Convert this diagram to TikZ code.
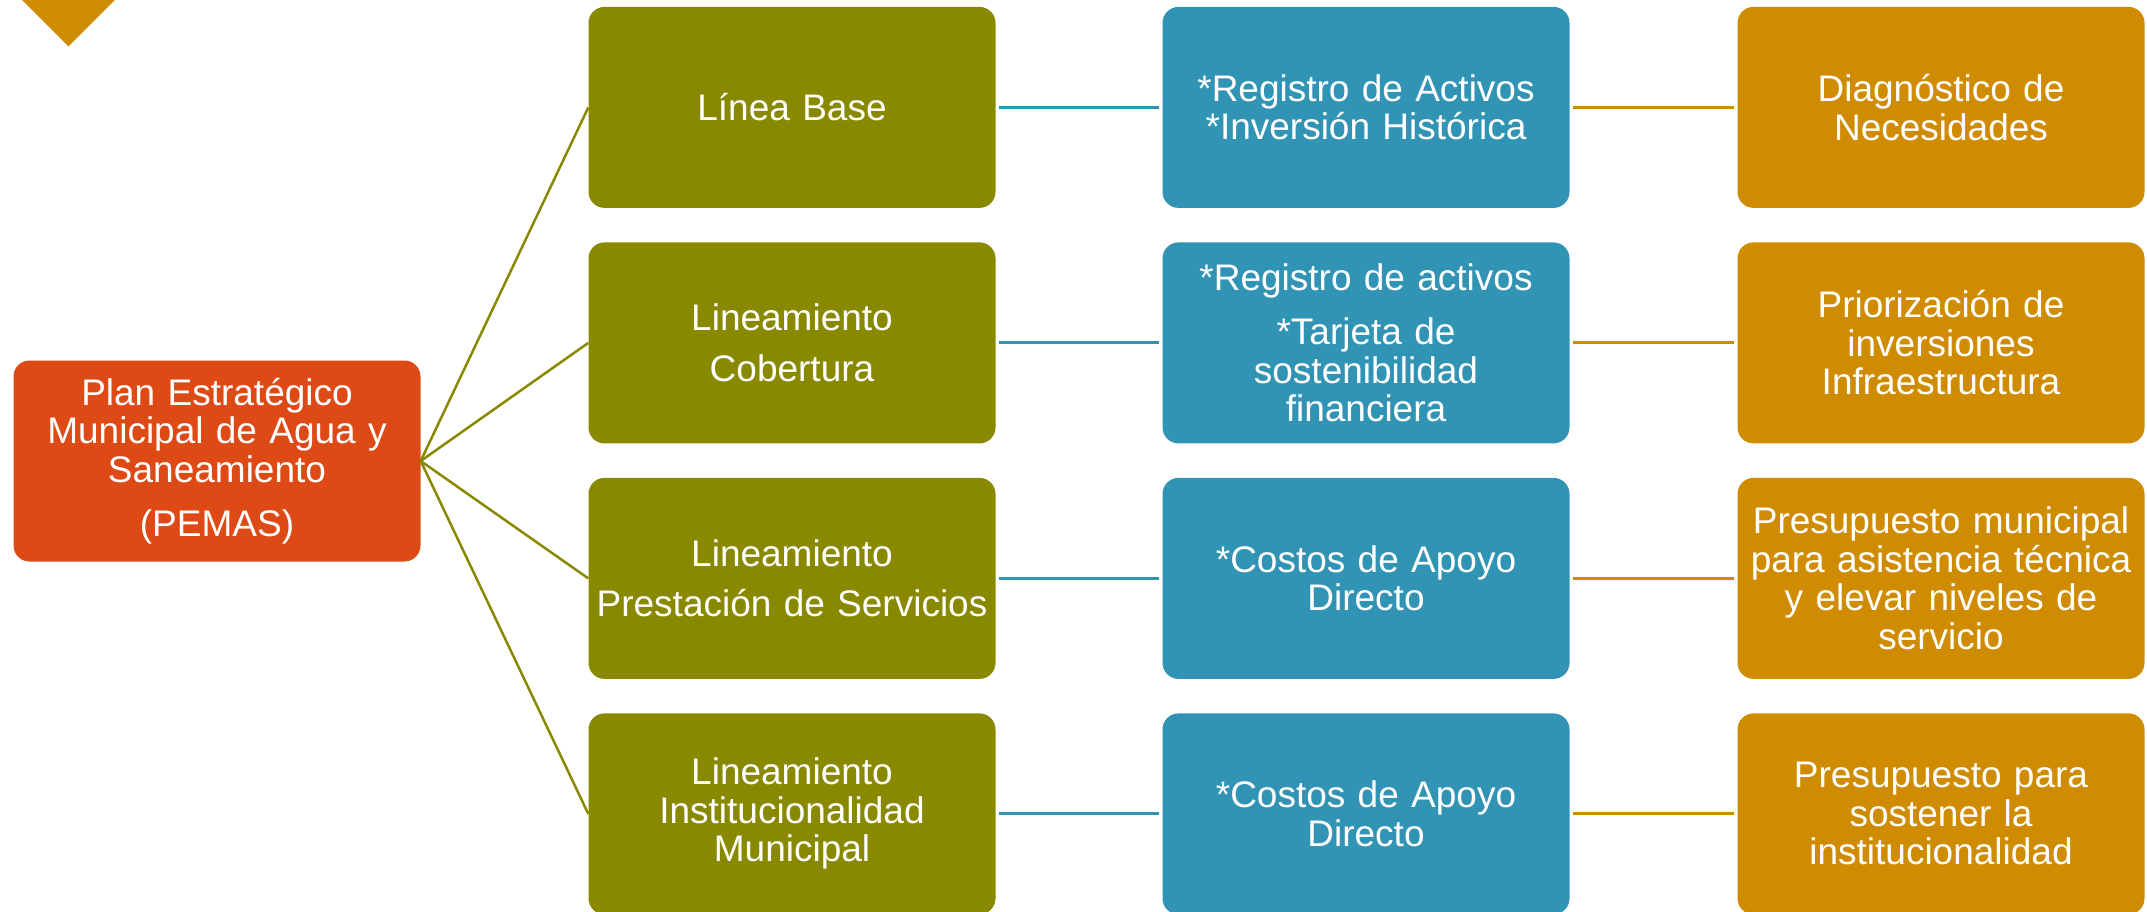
\documentclass[tikz,border=0pt]{standalone}
\usepackage{fontspec}
\setmainfont{Liberation Sans}
\definecolor{pemasred}{HTML}{DD4A15}
\definecolor{olivo}{HTML}{898900}
\definecolor{azul}{HTML}{3194B4}
\definecolor{oro}{HTML}{CF8C00}

\begin{document}
\begin{tikzpicture}[x=1pt,y=-1pt,
    caja/.style={rounded corners=16pt, minimum width=407pt, minimum height=201pt,
      inner sep=2pt, text width=400pt, align=center, text=white,
      font=\fontsize{37}{38.5}\selectfont},
    raiz/.style={caja, fill=pemasred},
    linea/.style={caja, fill=olivo},
    insumo/.style={caja, fill=azul},
    meta/.style={caja, fill=oro},
    rama/.style={draw=olivo, line width=2.5pt},
    enlace/.style={line width=3pt, shorten <=3pt, shorten >=3pt}]
      \useasboundingbox (0,0) rectangle (2147,912);
      \fill [oro] (22,0) -- (115,0) -- (68.5,46.5) -- cycle;
      \node [raiz] (pemas) at (217,461) {Plan Estratégico\\Municipal de Agua y\\Saneamiento\\[16pt](PEMAS)};
      \node [linea] (base) at (792,107.4) {Línea Base};
      \node [linea] (cober) at (792,342.9) {Lineamiento\\[12pt]Cobertura};
      \node [linea] (prest) at (792,578.4) {Lineamiento\\[12pt]Prestación de Servicios};
      \node [linea] (inst) at (792,813.9) {Lineamiento\\Institucionalidad\\Municipal};
      \node [insumo] (reg1) at (1366,107.4) {*Registro de Activos\\{}*Inversión Histórica};
      \node [insumo] (reg2) at (1366,342.9) {*Registro de activos\\[16pt]*Tarjeta de\\sostenibilidad\\financiera};
      \node [insumo] (apoyo1) at (1366,578.4) {*Costos de Apoyo\\Directo};
      \node [insumo] (apoyo2) at (1366,813.9) {*Costos de Apoyo\\Directo};
      \node [meta] (diag) at (1941,107.4) {Diagnóstico de\\Necesidades};
      \node [meta] (prio) at (1941,342.9) {Priorización de\\inversiones\\Infraestructura};
      \node [meta] (presu1) at (1941,578.4) {Presupuesto municipal\\para asistencia técnica\\y elevar niveles de\\servicio};
      \node [meta] (presu2) at (1941,813.9) {Presupuesto para\\sostener la\\institucionalidad};
      \draw [rama] (pemas.east) -- (base.west);
      \draw [rama] (pemas.east) -- (cober.west);
      \draw [rama] (pemas.east) -- (prest.west);
      \draw [rama] (pemas.east) -- (inst.west);
      \draw [enlace, azul] (base) -- (reg1);
      \draw [enlace, azul] (cober) -- (reg2);
      \draw [enlace, azul] (prest) -- (apoyo1);
      \draw [enlace, azul] (inst) -- (apoyo2);
      \draw [enlace, oro] (reg1) -- (diag);
      \draw [enlace, oro] (reg2) -- (prio);
      \draw [enlace, oro] (apoyo1) -- (presu1);
      \draw [enlace, oro] (apoyo2) -- (presu2);
\end{tikzpicture}
\end{document}
